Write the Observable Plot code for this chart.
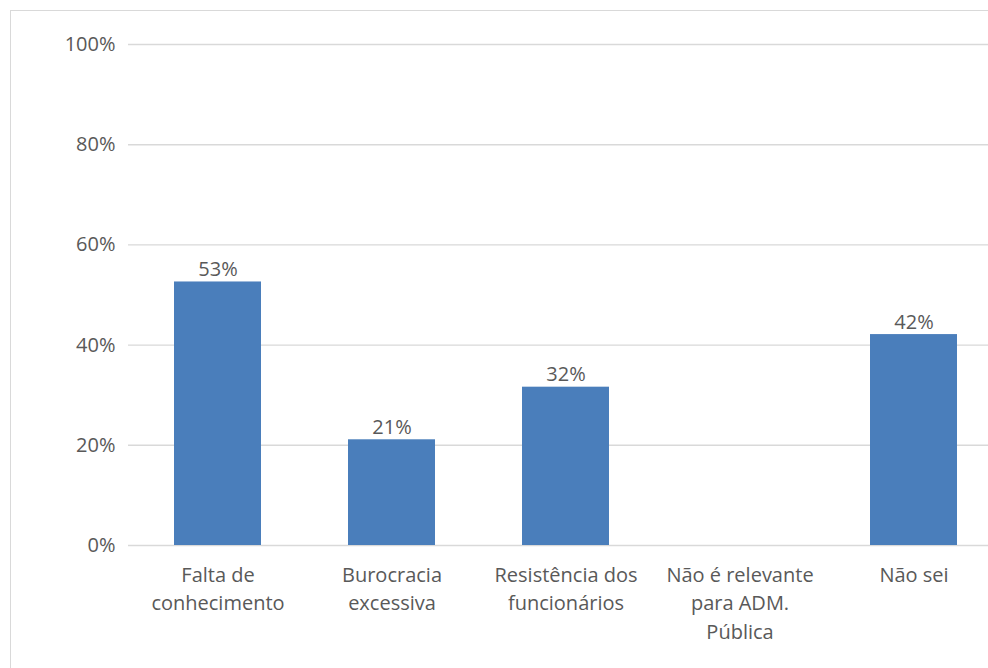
<!DOCTYPE html>
<html><head><meta charset="utf-8">
<script src="https://cdn.jsdelivr.net/npm/d3@7"></script>
<script src="https://cdn.jsdelivr.net/npm/@observablehq/plot@0.6"></script>
<style>
html,body{margin:0;padding:0;background:#fff;}
#wrap{position:relative;width:988px;height:668px;overflow:hidden;background:#fff;}
#frame{position:absolute;left:10px;top:10px;width:1000px;height:700px;border-left:1px solid #d9d9d9;border-top:1px solid #d9d9d9;}
#chart{position:absolute;left:0;top:0;}
</style></head><body><div id="wrap"><div id="frame"></div><div id="chart"></div></div>
<script>
const categories = ["Falta de conhecimento","Burocracia excessiva","Resistência dos funcionários","Não é relevante para ADM. Pública","Não sei"];
const tickLabels = ["Falta de\nconhecimento","Burocracia\nexcessiva","Resistência dos\nfuncionários","Não é relevante\npara ADM.\nPública","Não sei"];
const values = [0.526, 0.211, 0.316, 0, 0.421];
const valueLabels = ["53%","21%","32%","","42%"];
const yTicks = [0, 0.2, 0.4, 0.6, 0.8, 1];

const data = categories.map((c, i) => ({cat: c, value: values[i], label: valueLabels[i]}));
const labelOf = new Map(categories.map((c, i) => [c, tickLabels[i]]));

const chart = Plot.plot({
  width: 988,
  height: 668,
  marginLeft: 128,
  marginRight: -14,
  marginTop: 44,
  marginBottom: 123,
  style: {fontFamily: "'Open Sans', sans-serif", fontSize: "20px", color: "#595959", background: "transparent", overflow: "visible"},
  x: {type: "band", domain: categories, paddingInner: 0.5, paddingOuter: 0.25, label: null},
  y: {domain: [0, 1], label: null},
  marks: [
    Plot.gridY(yTicks, {stroke: "#d9d9d9", strokeOpacity: 1, strokeWidth: 1.4}),
    Plot.barY(data, {x: "cat", y: "value", fill: "#4a7ebb"}),
    Plot.text(data, {x: "cat", y: "value", text: "label", dy: -6, lineAnchor: "bottom", fill: "#595959", fontSize: 20}),
    Plot.axisY(yTicks, {tickSize: 0, tickPadding: 13, tickFormat: d3.format(".0%"), label: null, fontSize: 20, fill: "#595959"}),
    Plot.axisX({tickSize: 0, tickPadding: 16, tickFormat: d => labelOf.get(d), label: null, fontSize: 20, lineHeight: 1.43, fill: "#595959"})
  ]
});
document.getElementById("chart").appendChild(chart);
</script></body></html>
